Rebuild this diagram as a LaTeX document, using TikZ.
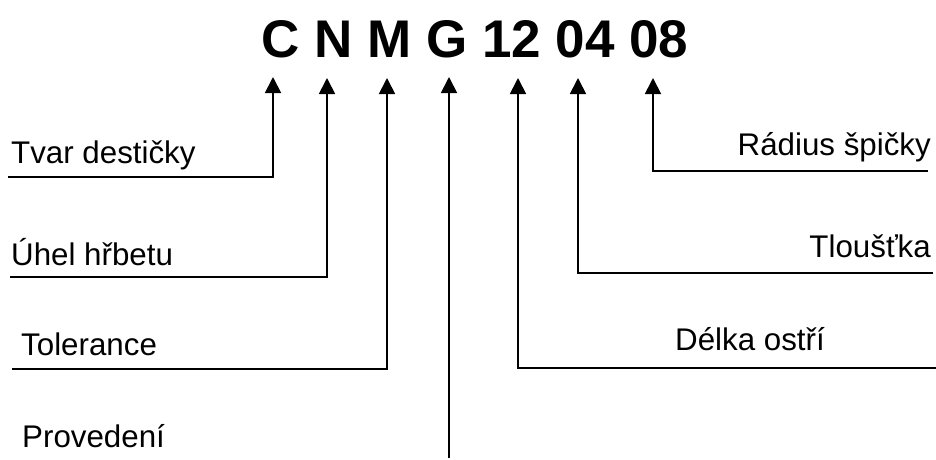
\documentclass[tikz,border=0pt]{standalone}
\usepackage{fontspec}
\setmainfont{Liberation Sans}
\usetikzlibrary{arrows.meta}
\begin{document}
\begin{tikzpicture}[x=1pt,y=-1pt,
  lbl/.style={inner sep=0pt,font=\fontsize{31.3}{31.3}\selectfont},
  ttl/.style={inner sep=0pt,font=\fontsize{53}{53}\selectfont\bfseries},
  conn/.style={line width=1.8pt,line join=miter,-{Triangle[length=16pt,width=16pt]}}]
\useasboundingbox (0,0) rectangle (936,459);
% title
\node[ttl,anchor=base] (title) at (475,57) {C N M G 12 04 08};
% arrow tips under the code letters
\coordinate (tC) at (273,77);
\coordinate (tN) at (327,78);
\coordinate (tM) at (387,78);
\coordinate (tG) at (449,77);
\coordinate (t12) at (518,78);
\coordinate (t04) at (578,78);
\coordinate (t08) at (653,78);
% labels
\node[lbl,anchor=base west] (tvar) at (11,163) {Tvar destičky};
\node[lbl,anchor=base west] (uhel) at (11,265) {Úhel hřbetu};
\node[lbl,anchor=base west] (tol) at (21,355) {Tolerance};
\node[lbl,anchor=base west] (prov) at (22,447) {Provedení};
\node[lbl,anchor=base east] (rad) at (931,155) {Rádius špičky};
\node[lbl,anchor=base east] (tlou) at (931,257) {Tloušťka};
\node[lbl,anchor=base west] (delka) at (675,350) {Délka ostří};
% underline starts
\coordinate (sC) at (8,177);
\coordinate (sN) at (10,277);
\coordinate (sM) at (12,369);
\coordinate (sG) at (449,458);
\coordinate (s12) at (936,368);
\coordinate (s04) at (933,273);
\coordinate (s08) at (928,171);
% connectors
\draw[conn] (sC) -| (tC);
\draw[conn] (sN) -| (tN);
\draw[conn] (sM) -| (tM);
\draw[conn] (sG) -- (tG);
\draw[conn] (s12) -| (t12);
\draw[conn] (s04) -| (t04);
\draw[conn] (s08) -| (t08);
\end{tikzpicture}
\end{document}
